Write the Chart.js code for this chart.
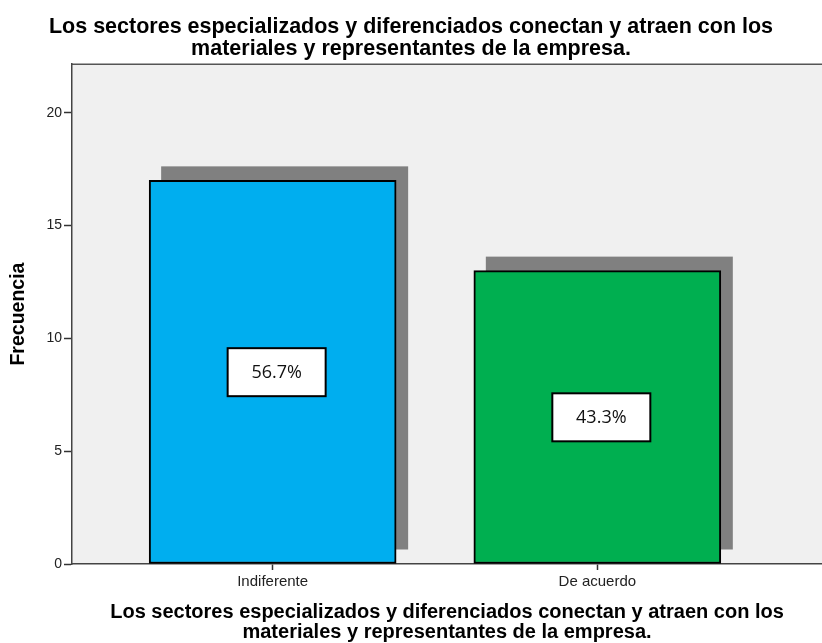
<!doctype html>
<html lang="es">
  <head>
    <meta charset="utf-8">
    <title>Frecuencia</title>
    <script src="https://cdn.jsdelivr.net/npm/chart.js"></script>
    <style>
      html, body { margin: 0; padding: 0; background: #fff; overflow: hidden; }
      #wrap { width: 822px; height: 643px; }
    </style>
  </head>
  <body>
    <div id="wrap"><canvas id="grafico" width="822" height="643"></canvas></div>

    <script>
        // datos de la pregunta
        const categorias = ['Indiferente', 'De acuerdo'];
        const frecuencias = [17, 13];
        const posiciones = [1, 2];
        const colores = ['#00AEEF', '#00AF50'];
        const titulo = ['Los sectores especializados y diferenciados conectan y atraen con los',
                        'materiales y representantes de la empresa.'];

        const total = frecuencias.reduce((a, b) => a + b, 0);
        const porcentajes = frecuencias.map(v => (v / total * 100).toFixed(1) + '%');

        const fuente = '"Liberation Sans", Arial, sans-serif';

        // fondo gris del area y linea superior
        const marco = {
            id: 'marco',
            beforeDraw(chart) {
                const {ctx, chartArea: a} = chart;
                ctx.save();
                ctx.fillStyle = '#F0F0F0';
                ctx.fillRect(a.left, a.top, a.right - a.left, a.bottom - a.top);
                ctx.strokeStyle = '#555';
                ctx.lineWidth = 1.5;
                ctx.beginPath();
                ctx.moveTo(a.left, a.top);
                ctx.lineTo(a.right, a.top);
                ctx.stroke();
                ctx.restore();
            }
        };

        // sombra gris detras de cada barra
        const sombra = {
            id: 'sombra',
            beforeDatasetsDraw(chart) {
                const ctx = chart.ctx;
                ctx.save();
                ctx.fillStyle = '#808080';
                chart.getDatasetMeta(0).data.forEach(bar => {
                    const {x, y, base, width} = bar.getProps(['x', 'y', 'base', 'width'], true);
                    ctx.fillRect(x - width / 2 + 12, y - 14, width, base - y);
                });
                ctx.restore();
            }
        };

        // cajas con el porcentaje en medio de la barra
        const cajas = {
            id: 'cajas',
            afterDatasetsDraw(chart) {
                const {ctx, scales: {y}} = chart;
                ctx.save();
                chart.getDatasetMeta(0).data.forEach((bar, i) => {
                    const cx = bar.x + 4;
                    const cy = y.getPixelForValue(frecuencias[i] / 2);
                    ctx.fillStyle = '#fff';
                    ctx.fillRect(cx - 49, cy - 24, 98, 48);
                    ctx.strokeStyle = '#000';
                    ctx.lineWidth = 2;
                    ctx.strokeRect(cx - 49, cy - 24, 98, 48);
                    ctx.fillStyle = '#111';
                    ctx.font = '18px "Open Sans"';
                    ctx.textAlign = 'center';
                    ctx.textBaseline = 'middle';
                    ctx.fillText(porcentajes[i], cx, cy + 1);
                });
                ctx.restore();
            }
        };

        new Chart(document.getElementById('grafico'), {
            type: 'bar',
            data: {
                datasets: [{
                    data: posiciones.map((p, i) => ({x: p, y: frecuencias[i]})),
                    backgroundColor: colores,
                    borderColor: '#000',
                    borderWidth: 2,
                    borderSkipped: false,
                    barThickness: 247
                }]
            },
            options: {
                responsive: false,
                animation: false,
                events: [],
                layout: { padding: 0 },
                plugins: {
                    legend: { display: false },
                    tooltip: { enabled: false },
                    title: {
                        display: true,
                        text: titulo,
                        color: '#000',
                        font: { family: fuente, size: 21.5, weight: 'bold', lineHeight: 0.98 },
                        padding: { top: 17, bottom: 5 }
                    }
                },
                scales: {
                    x: {
                        type: 'linear',
                        offset: false,
                        min: 0.382,
                        max: 2.692,
                        afterBuildTicks: axis => { axis.ticks = posiciones.map(v => ({value: v})); },
                        afterFit: s => { s.height = 79; },
                        ticks: {
                            callback: v => categorias[v - 1],
                            color: '#222',
                            font: { family: fuente, size: 15 },
                            padding: 3,
                            maxRotation: 0
                        },
                        grid: { offset: false, drawOnChartArea: false, tickLength: 6, tickColor: '#333', tickWidth: 1.5 },
                        border: { color: '#444', width: 1.5 },
                        title: {
                            display: true,
                            text: titulo,
                            color: '#000',
                            font: { family: fuente, size: 20, weight: 'bold', lineHeight: 1.0 },
                            padding: { top: 0, bottom: 1 }
                        }
                    },
                    y: {
                        min: 0,
                        max: 22.15,
                        afterFit: s => { s.width = 72; },
                        ticks: {
                            stepSize: 5,
                            includeBounds: false,
                            color: '#222',
                            font: { family: fuente, size: 14 },
                            padding: 2
                        },
                        grid: { drawOnChartArea: false, tickLength: 8, tickColor: '#333', tickWidth: 1.5 },
                        border: { color: '#444', width: 1.5 },
                        title: {
                            display: true,
                            text: 'Frecuencia',
                            color: '#000',
                            font: { family: fuente, size: 19.5, weight: 'bold' },
                            padding: { top: 7, bottom: 0 }
                        }
                    }
                }
            },
            plugins: [marco, sombra, cajas]
        });
    </script>
  </body>
</html>
